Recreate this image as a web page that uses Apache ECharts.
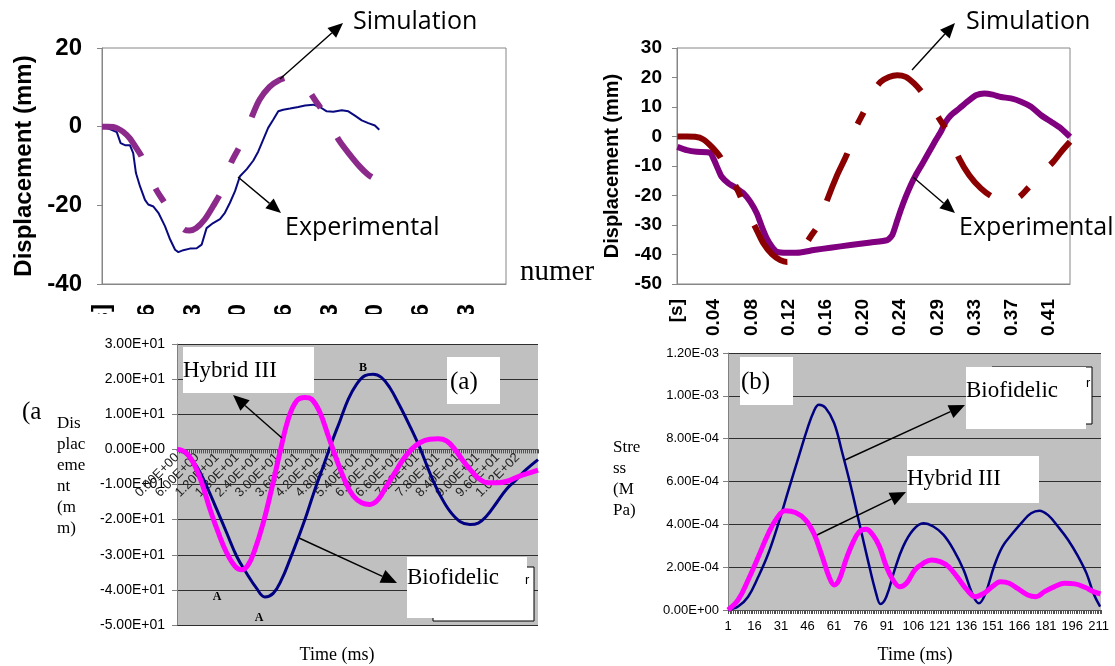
<!DOCTYPE html>
<html><head><meta charset="utf-8">
<script src="https://cdn.jsdelivr.net/npm/echarts@6/dist/echarts.min.js"></script>
<style>
html,body{margin:0;padding:0;background:#fff;width:1115px;height:666px;overflow:hidden;position:relative}
.p{position:absolute;overflow:hidden}
</style></head>
<body>
<div id="a" class="p" style="left:0;top:0;width:596px;height:314px"></div>
<div id="b" class="p" style="left:596px;top:0;width:519px;height:337px"></div>
<div id="c" class="p" style="left:0;top:314px;width:560px;height:352px"></div>
<div id="d" class="p" style="left:560px;top:337px;width:555px;height:329px"></div>
<script>
// ---------- DATA ----------
// Top-left panel (time in s, displacement in mm)
const tlTickLabels = ['[s]','0.016','0.033','0.050','0.066','0.083','0.100','0.116','0.133'];
const tlExpTime = [0.0001,0.0035,0.0054,0.0068,0.0084,0.0102,0.0114,0.0124,0.0139,0.0157,0.0169,0.0188,0.0206,0.0230,0.0249,0.0267,0.0279,0.0297,0.0321,0.0346,0.0364,0.0382,0.0406,0.0431,0.0449,0.0467,0.0486,0.0504,0.0529,0.0553,0.0571,0.0589,0.0607,0.0626,0.0644,0.0662,0.0687,0.0717,0.0742,0.0772,0.0796,0.0821,0.0845,0.0876,0.0900,0.0924,0.0949,0.0973,0.0997,0.1013];
const tlExpDisp = [0,-0.8,-1.4,-4.2,-4.7,-4.7,-6.7,-11.8,-15.2,-18.6,-19.8,-20.3,-21.9,-25.3,-28.7,-31.3,-31.9,-31.4,-31.0,-30.9,-30.0,-25.8,-24.5,-23.5,-21.9,-19.4,-16.4,-12.6,-10.8,-8.6,-6.3,-3.3,-0.3,1.8,3.9,4.3,4.6,5.0,5.4,5.6,5.0,3.9,3.8,4.2,3.9,2.8,1.6,0.9,0.3,-0.8];
const tlSimTime = [0,0.0022,0.0040,0.0058,0.0077,0.0101,0.0125,0.0144,0.0174,0.0198,0.0229,0.0265,0.0302,0.0320,0.0344,0.0375,0.0405,0.0436,0.0454,0.0472,0.0503,0.0527,0.0551,0.0576,0.0612,0.0649,0.0679,0.0710,0.0740,0.0777,0.0807,0.0838,0.0868,0.0905,0.0941,0.0972,0.1002];
const tlSimDisp = [0,0,-0.1,-0.5,-1.3,-2.9,-5.4,-7.5,-12.2,-16.0,-19.4,-23.6,-26.2,-26.4,-25.8,-23.6,-20.3,-16.5,-12.6,-9.1,-5.0,-1.2,3.1,6.9,10.1,11.9,12.5,12.4,10.7,6.9,3.9,0.1,-3.7,-7.1,-10.1,-12.2,-13.5];

// Top-right panel
const trTickLabels = ['[s]','0.04','0.08','0.12','0.16','0.20','0.24','0.29','0.33','0.37','0.41'];
const trExpTime = [0.0004,0.0107,0.0217,0.0363,0.0400,0.0455,0.0491,0.0565,0.0656,0.0730,0.0803,0.0876,0.0931,0.0986,0.1042,0.1097,0.1207,0.1353,0.1500,0.1683,0.1903,0.2123,0.2306,0.2361,0.2416,0.2453,0.2508,0.2563,0.2618,0.2691,0.2765,0.2838,0.2893,0.2948,0.3003,0.3095,0.3205,0.3278,0.3370,0.3462,0.3553,0.3663,0.3773,0.3883,0.3993,0.4103,0.4213,0.4310];
const trExpDisp = [-3.5,-4.6,-5.2,-5.5,-7.5,-11.4,-13.7,-15.9,-17.6,-19.3,-22.1,-26.1,-30.6,-34.6,-37.4,-39.1,-39.4,-39.3,-38.5,-37.7,-36.8,-35.9,-35.1,-33.4,-28.4,-25.0,-20.5,-16.5,-13.1,-9.2,-5.2,-1.2,1.6,5.0,7.2,9.5,12.3,14.0,14.6,14.2,13.4,12.9,11.8,10.1,7.2,5.0,2.7,-0.1];
const trSimTime = [0.0004,0.0107,0.0198,0.0290,0.0381,0.0473,0.0565,0.0656,0.0730,0.0803,0.0876,0.0950,0.1041,0.1133,0.1206,0.1280,0.1372,0.1463,0.1555,0.1646,0.1756,0.1866,0.1958,0.2050,0.2141,0.2233,0.2325,0.2416,0.2508,0.2600,0.2691,0.2783,0.2875,0.2966,0.3095,0.3205,0.3333,0.3462,0.3590,0.3718,0.3847,0.3993,0.4125,0.4213,0.4310];
const trSimDisp = [0,0,-0.1,-1.0,-3.5,-6.9,-12.5,-17.6,-22.7,-27.2,-31.8,-36.3,-39.9,-41.9,-42.5,-41.9,-38.5,-34.0,-29.7,-21.6,-13.1,-5.8,2.7,8.4,14.6,18.5,20.2,20.8,20.2,18.0,14.8,10.6,6.1,1.6,-7.5,-13.1,-17.6,-20.5,-21.6,-21.2,-17.6,-12.5,-8.6,-5.2,-1.8];

// Bottom-left panel (a): time ms, displacement mm
const blXTicks = ['0.00E+00','6.00E+00','1.20E+01','1.80E+01','2.40E+01','3.00E+01','3.60E+01','4.20E+01','4.80E+01','5.40E+01','6.00E+01','6.60E+01','7.20E+01','7.80E+01','8.40E+01','9.00E+01','9.60E+01','1.02E+02'];
const blYTicks = ['-5.00E+01','-4.00E+01','-3.00E+01','-2.00E+01','-1.00E+01','0.00E+00','1.00E+01','2.00E+01','3.00E+01'];
const blBioTime = [0,2.9,5.9,8.9,11.9,14.9,17.9,20.8,23.8,26.3,28.8,31.3,33.8,36.3,38.8,41.3,43.8,46.3,48.8,51.3,53.8,56.3,58.7,61.2,63.7,66.7,69.7,72.7,75.7,78.7,81.7,84.7,87.7,90.2,92.7,95.7,98.6,101.6,104.6,108.1];
const blBioDisp = [0,-1.4,-4.8,-10.5,-17.1,-23.8,-30.5,-35.2,-39.5,-42.0,-41.0,-37.1,-31.4,-25.2,-18.6,-11.4,-4.8,1.9,8.1,14.3,18.6,21.0,21.4,20.5,17.6,12.4,6.7,0.5,-6.7,-12.9,-17.6,-20.5,-21.4,-21.0,-19.0,-15.2,-11.4,-8.6,-5.7,-2.9];
const blHybTime = [0,2.4,4.9,7.4,9.9,12.4,14.9,17.4,19.4,21.3,23.3,25.8,28.3,30.8,33.3,35.8,38.3,40.3,42.8,45.3,47.8,50.3,52.8,55.3,57.7,60.2,62.7,65.2,67.7,70.2,72.7,75.7,78.2,80.7,83.2,85.7,88.2,90.7,93.1,96.1,99.1,102.6,105.6,108.1];
const blHybDisp = [0,-0.7,-3.8,-9.5,-17.1,-23.8,-29.5,-33.3,-34.3,-32.9,-28.6,-21.0,-11.4,-1.0,8.6,13.8,14.8,14.3,10.5,3.8,-2.9,-9.0,-13.3,-15.2,-15.7,-14.3,-10.5,-6.7,-2.9,0,1.9,2.9,3.0,2.4,0,-3.3,-6.2,-8.6,-9.5,-9.5,-9.0,-7.6,-6.7,-5.9];

// Bottom-right panel (b): time ms, stress MPa
const brXTicks = ['1','16','31','46','61','76','91','106','121','136','151','166','181','196','211'];
const brYTicks = ['0.00E+00','2.00E-04','4.00E-04','6.00E-04','8.00E-04','1.00E-03','1.20E-03'];
const brBioTime = [1,6.7,12.4,18.2,23.9,29.6,35.3,41.1,45.8,49.6,52.5,56.3,61.1,65.8,70.6,75.4,80.2,84.9,87.4,90.7,95.4,100.2,105.9,111.6,117.3,123.1,128.8,134.5,139.3,143.1,146.9,151.7,156.5,162.2,167.9,172.7,177.4,182.2,187.9,193.7,199.4,204.1,208.0,211.8];
const brBioStress = [0,0.16e-4,0.62e-4,1.56e-4,2.65e-4,4.05e-4,5.61e-4,7.17e-4,8.42e-4,9.27e-4,9.58e-4,9.43e-4,8.73e-4,7.32e-4,5.77e-4,4.05e-4,2.34e-4,0.78e-4,0.28e-4,0.62e-4,1.87e-4,2.96e-4,3.74e-4,4.05e-4,3.90e-4,3.51e-4,2.81e-4,1.87e-4,0.78e-4,0.31e-4,0.78e-4,2.03e-4,2.96e-4,3.58e-4,4.13e-4,4.52e-4,4.64e-4,4.44e-4,3.90e-4,3.27e-4,2.49e-4,1.71e-4,0.78e-4,0.16e-4];
const brHybTime = [1,6.7,12.4,18.2,23.9,28.7,33.4,39.2,44.9,49.6,54.4,58.2,61.1,63.9,67.8,71.6,75.4,79.2,83.0,86.8,90.7,94.5,98.3,102.1,106.9,111.6,116.4,121.2,125.9,130.7,136.4,141.2,145.9,150.7,155.5,160.3,165.0,170.8,175.5,180.3,186.0,191.7,197.5,203.2,208.0,212.0];
const brHybStress = [0,0.47e-4,1.40e-4,2.49e-4,3.58e-4,4.29e-4,4.63e-4,4.55e-4,4.21e-4,3.58e-4,2.49e-4,1.56e-4,1.17e-4,1.40e-4,2.34e-4,3.12e-4,3.66e-4,3.77e-4,3.51e-4,2.96e-4,2.03e-4,1.40e-4,1.09e-4,1.25e-4,1.87e-4,2.18e-4,2.34e-4,2.26e-4,2.03e-4,1.56e-4,0.94e-4,0.62e-4,0.78e-4,1.09e-4,1.32e-4,1.25e-4,1.01e-4,0.70e-4,0.62e-4,0.86e-4,1.09e-4,1.25e-4,1.22e-4,1.06e-4,0.86e-4,0.75e-4];

// ---------- HELPERS ----------
const FS = "'Liberation Sans', Arial, sans-serif";
const FT = "'Liberation Serif', 'Times New Roman', serif";
const FC = "'Open Sans', sans-serif";
const pairs = (xs, ys, off) => xs.map((x, i) => [x - (off || 0), ys[i]]);
function fmtIdx(labels, start, step) {
  return function (v) {
    const k = Math.round((v - start) / step);
    return (k >= 0 && k < labels.length && Math.abs(v - start - k * step) < step * 0.02) ? labels[k] : '';
  };
}
function arrow(x1, y1, x2, y2, hl, hw) {
  const a = Math.atan2(y2 - y1, x2 - x1);
  const bx = x2 - hl * Math.cos(a), by = y2 - hl * Math.sin(a);
  const px = -Math.sin(a) * hw / 2, py = Math.cos(a) * hw / 2;
  return [
    {type: 'line', z: 110, shape: {x1: x1, y1: y1, x2: bx, y2: by}, style: {stroke: '#000', lineWidth: 1.4}},
    {type: 'polygon', z: 110, shape: {points: [[x2, y2], [bx + px, by + py], [bx - px, by - py]]}, style: {fill: '#000'}}
  ];
}
function txt(x, y, text, family, size, extra) {
  return Object.assign({type: 'text', z: 111, x: x, y: y,
    style: Object.assign({text: text, fontFamily: family, fontSize: size, fill: '#000', align: 'left', verticalAlign: 'middle'}, (extra || {}))});
}
function box(x, y, w, h, stroke) {
  return {type: 'rect', z: 105, shape: {x: x, y: y, width: w, height: h},
    style: {fill: '#fff', stroke: stroke || null, lineWidth: stroke ? 1 : 0}};
}
const GRID_FIXED = {outerBoundsMode: 'none', containLabel: false};

// ---------- TOP-LEFT ----------
const TL_STEP = 1 / 60;
echarts.init(document.getElementById('a')).setOption({
  animation: false,
  grid: Object.assign({left: 102, top: 48, width: 404, height: 236, show: true, borderColor: '#868686', borderWidth: 1, backgroundColor: 'transparent'}, GRID_FIXED),
  xAxis: {type: 'value', min: 0, max: 0.1476, interval: TL_STEP,
    axisLine: {show: true, onZero: false, lineStyle: {color: '#868686'}}, axisTick: {show: false}, splitLine: {show: false},
    axisLabel: {rotate: 90, margin: 20, fontSize: 24, fontWeight: 'bold', fontFamily: FS, color: '#000', formatter: fmtIdx(tlTickLabels, 0, TL_STEP)}},
  yAxis: {type: 'value', min: -40, max: 20, interval: 20,
    name: 'Displacement (mm)', nameLocation: 'middle', nameGap: 66,
    nameTextStyle: {fontSize: 24, fontWeight: 'bold', fontFamily: FS, color: '#000'},
    axisLine: {show: true, lineStyle: {color: '#868686'}}, axisTick: {show: true, length: 5, lineStyle: {color: '#868686'}},
    splitLine: {show: false},
    axisLabel: {margin: 20, fontSize: 24, fontWeight: 'bold', fontFamily: FS, color: '#000'}},
  series: [
    {name: 'Experimental', type: 'line', data: pairs(tlExpTime, tlExpDisp), showSymbol: false, smooth: false,
     lineStyle: {color: '#0a0a80', width: 2}},
    {name: 'Simulation', type: 'line', data: pairs(tlSimTime, tlSimDisp), showSymbol: false, smooth: 0.3,
     lineStyle: {color: '#8b2a8b', width: 6, type: [53, 35, 16, 34], cap: 'butt'}}
  ],
  graphic: [].concat(
    arrow(280, 79, 343, 23, 15, 13),
    arrow(238, 177, 281, 213, 15, 13),
    [txt(353, 22, 'Simulation', FC, 25), txt(285, 228, 'Experimental', FC, 25),
     txt(520, 272, 'numer', FT, 29)]
  )
});

// ---------- TOP-RIGHT ----------
const TR_STEP = 0.0408;
echarts.init(document.getElementById('b')).setOption({
  animation: false,
  grid: Object.assign({left: 81, top: 48, width: 393, height: 236, show: true, borderColor: '#868686', borderWidth: 1, backgroundColor: 'transparent'}, GRID_FIXED),
  xAxis: {type: 'value', min: 0, max: 0.431, interval: TR_STEP,
    axisLine: {show: true, onZero: false, lineStyle: {color: '#868686'}}, axisTick: {show: false}, splitLine: {show: false},
    axisLabel: {rotate: 90, margin: 15, fontSize: 19, fontWeight: 'bold', fontFamily: FS, color: '#000', formatter: fmtIdx(trTickLabels, 0, TR_STEP)}},
  yAxis: {type: 'value', min: -50, max: 30, interval: 10,
    name: 'Displacement (mm)', nameLocation: 'middle', nameGap: 55,
    nameTextStyle: {fontSize: 20, fontWeight: 'bold', fontFamily: FS, color: '#000'},
    axisLine: {show: true, lineStyle: {color: '#868686'}}, axisTick: {show: true, length: 5, lineStyle: {color: '#868686'}},
    splitLine: {show: false},
    axisLabel: {margin: 15, fontSize: 19, fontWeight: 'bold', fontFamily: FS, color: '#000'}},
  series: [
    {name: 'Experimental', type: 'line', data: pairs(trExpTime, trExpDisp), showSymbol: false, smooth: 0.2,
     lineStyle: {color: '#800080', width: 6, join: 'round'}},
    {name: 'Simulation', type: 'line', data: pairs(trSimTime, trSimDisp), showSymbol: false, smooth: 0.3,
     lineStyle: {color: '#8b0000', width: 6, type: [52, 31, 13, 31], cap: 'butt'}}
  ],
  graphic: [].concat(
    arrow(316, 70, 359, 23, 15, 13),
    arrow(317, 177, 359, 213, 15, 13),
    [txt(370, 22, 'Simulation', FC, 25), txt(363, 228, 'Experimental', FC, 25)]
  )
});

// ---------- BOTTOM-LEFT (a) ----------
echarts.init(document.getElementById('c')).setOption({
  animation: false,
  grid: Object.assign({left: 177, top: 30, width: 361, height: 281, show: true, backgroundColor: '#c0c0c0', borderWidth: 0}, GRID_FIXED),
  xAxis: {type: 'value', min: 0, max: 108.1, interval: 6, position: 'bottom', offset: -175.6,
    axisLine: {show: true, onZero: false, lineStyle: {color: '#505050'}},
    axisTick: {show: true, length: 4, lineStyle: {color: '#505050'}},
    minorTick: {show: true, splitNumber: 10, length: 4, lineStyle: {color: '#505050'}},
    splitLine: {show: false},
    axisLabel: {rotate: 45, margin: 6, fontSize: 13, fontFamily: FS, color: '#222', formatter: fmtIdx(blXTicks, 0, 6)}},
  yAxis: {type: 'value', min: -50, max: 30, interval: 10,
    axisLine: {show: true, lineStyle: {color: '#808080'}}, axisTick: {show: true, length: 5, lineStyle: {color: '#808080'}},
    splitLine: {show: true, lineStyle: {color: '#2e2e2e', width: 1}},
    axisLabel: {margin: 12, fontSize: 14, fontFamily: FS, color: '#000', formatter: fmtIdx(blYTicks, -50, 10)}},
  series: [
    {name: 'Biofidelic', type: 'line', data: pairs(blBioTime, blBioDisp), showSymbol: false, smooth: 0.4,
     lineStyle: {color: '#000080', width: 3}},
    {name: 'Hybrid III', type: 'line', data: pairs(blHybTime, blHybDisp), showSymbol: false, smooth: 0.4,
     lineStyle: {color: '#ff00ff', width: 5}}
  ],
  graphic: [].concat(
    [box(183, 33, 131, 46), txt(183, 57, 'Hybrid III', FT, 23),
     box(447, 43, 53, 47), txt(450, 68, '(a)', FT, 25),
     box(433, 253, 101, 54, '#000'), txt(525, 266, 'r', FS, 13),
     box(407, 243, 120, 61), txt(407, 264, 'Biofidelic', FT, 23),
     txt(363, 54, 'B', FT, 12, {fontWeight: 'bold', align: 'center'}),
     txt(217, 283, 'A', FT, 12, {fontWeight: 'bold', align: 'center'}),
     txt(259, 304, 'A', FT, 12, {fontWeight: 'bold', align: 'center'}),
     txt(22, 98, '(a', FT, 25),
     txt(57, 99, 'Dis\nplac\neme\nnt\n(m\nm)', FT, 17, {verticalAlign: 'top', lineHeight: 21}),
     txt(337, 341, 'Time (ms)', FT, 18, {align: 'center'})],
    arrow(282, 124, 233, 81, 16, 14),
    arrow(299, 224, 397, 269, 16, 14)
  )
});

// ---------- BOTTOM-RIGHT (b) ----------
echarts.init(document.getElementById('d')).setOption({
  animation: false,
  grid: Object.assign({left: 168, top: 16, width: 373, height: 257, show: true, backgroundColor: '#c0c0c0', borderWidth: 0}, GRID_FIXED),
  xAxis: {type: 'value', min: 0, max: 211.3, interval: 15,
    axisLine: {show: true, onZero: false, lineStyle: {color: '#505050'}},
    axisTick: {show: true, length: 4, lineStyle: {color: '#505050'}},
    minorTick: {show: true, splitNumber: 15, length: 4, lineStyle: {color: '#505050'}},
    splitLine: {show: false},
    axisLabel: {margin: 10, fontSize: 13, fontFamily: FS, color: '#000', formatter: fmtIdx(brXTicks, 0, 15)}},
  yAxis: {type: 'value', min: 0, max: 0.0012, interval: 0.0002,
    axisLine: {show: true, lineStyle: {color: '#808080'}}, axisTick: {show: true, length: 5, lineStyle: {color: '#808080'}},
    splitLine: {show: true, lineStyle: {color: '#2e2e2e', width: 1}},
    axisLabel: {margin: 9, fontSize: 13, fontFamily: FS, color: '#000', formatter: fmtIdx(brYTicks, 0, 0.0002)}},
  series: [
    {name: 'Biofidelic', type: 'line', data: pairs(brBioTime, brBioStress, 1), showSymbol: false, smooth: 0.4,
     lineStyle: {color: '#000080', width: 2.5}},
    {name: 'Hybrid III', type: 'line', data: pairs(brHybTime, brHybStress, 1), showSymbol: false, smooth: 0.4,
     lineStyle: {color: '#ff00ff', width: 5}}
  ],
  graphic: [].concat(
    [box(180, 20, 53, 48), txt(181, 45, '(b)', FT, 25),
     box(432, 30, 100, 57, '#000'), txt(526, 46, 'r', FS, 13),
     box(406, 30, 120, 62), txt(406, 54, 'Biofidelic', FT, 23),
     box(347, 119, 132, 47), txt(347, 142, 'Hybrid III', FT, 23),
     txt(53, 100, 'Stre\nss\n(M\nPa)', FT, 17, {verticalAlign: 'top', lineHeight: 21}),
     txt(355, 318, 'Time (ms)', FT, 18, {align: 'center'})],
    arrow(285, 123, 405, 68, 16, 14),
    arrow(257, 198, 346, 155, 16, 14)
  )
});
</script>
</body></html>
